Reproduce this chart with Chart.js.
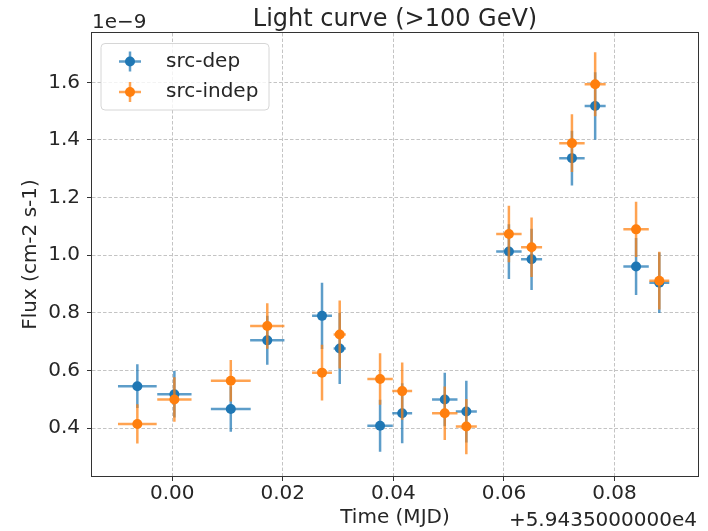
<!DOCTYPE html>
<html>
<head>
<meta charset="utf-8">
<script src="https://cdn.jsdelivr.net/npm/chart.js@4.4.0/dist/chart.umd.min.js"></script>
<style>
  html, body { margin: 0; padding: 0; background: #ffffff; }
  #wrap { width: 708px; height: 531px; }
</style>
</head>
<body>
<div id="wrap"><canvas id="c" width="708" height="531"></canvas></div>
<script>
// Time (MJD) relative to offset 59435
const timeOffsetLabel = "+5.9435000000e4";
const fluxOffsetLabel = "1e\u22129";
const times   = [-0.0063, 0.0004, 0.0106, 0.0172, 0.0271, 0.0303, 0.0376, 0.0416, 0.0493, 0.0532, 0.0609, 0.0650, 0.0723, 0.0765, 0.0839, 0.0881];
const timeErr = [0.0035, 0.0031, 0.0036, 0.0031, 0.0018, 0.0011, 0.0023, 0.0018, 0.0023, 0.0019, 0.0023, 0.0019, 0.0023, 0.0019, 0.0023, 0.0018];
// Flux in units of 1e-9 cm-2 s-1
const depFlux   = [0.546, 0.518, 0.467, 0.705, 0.790, 0.677, 0.409, 0.452, 0.500, 0.458, 1.013, 0.986, 1.337, 1.518, 0.961, 0.905];
const depErr    = [0.076, 0.081, 0.079, 0.085, 0.115, 0.123, 0.090, 0.104, 0.093, 0.107, 0.095, 0.106, 0.095, 0.117, 0.099, 0.105];
const indepFlux = [0.415, 0.500, 0.565, 0.755, 0.593, 0.725, 0.571, 0.529, 0.452, 0.406, 1.074, 1.028, 1.389, 1.593, 1.090, 0.912];
const indepErr  = [0.068, 0.077, 0.072, 0.079, 0.097, 0.118, 0.089, 0.099, 0.093, 0.096, 0.098, 0.103, 0.100, 0.111, 0.096, 0.100];
const xTicks = [0.00, 0.02, 0.04, 0.06, 0.08];
const yTicks = [0.4, 0.6, 0.8, 1.0, 1.2, 1.4, 1.6];
const seriesLabels = ["src-dep", "src-indep"];
const titleText = "Light curve (>100 GeV)";
const xTitle = "Time (MJD)";
const yTitle = "Flux (cm-2 s-1)";

const BLUE = '#1f77b4', ORANGE = '#ff7f0e';
const BLUE_A = 'rgba(31,119,180,0.72)', ORANGE_A = 'rgba(255,127,14,0.72)';
const FONT = "'DejaVu Sans', 'Liberation Sans', sans-serif";
const TXT = '#262626';

function pts(ys) { return times.map((t, i) => ({ x: t, y: ys[i] })); }

const errorBars = {
  id: 'errorBars',
  beforeDatasetDraw(chart, args) {
    const ds = chart.data.datasets[args.index];
    const xs = chart.scales.x, ys = chart.scales.y, ctx = chart.ctx, a = chart.chartArea;
    ctx.save();
    ctx.beginPath(); ctx.rect(a.left, a.top, a.right - a.left, a.bottom - a.top); ctx.clip();
    ctx.strokeStyle = ds.errColor; ctx.lineWidth = 2.5; ctx.lineCap = 'butt';
    ds.data.forEach((p, i) => {
      const x = xs.getPixelForValue(p.x), y = ys.getPixelForValue(p.y);
      const x0 = xs.getPixelForValue(p.x - ds.xErr[i]), x1 = xs.getPixelForValue(p.x + ds.xErr[i]);
      const y0 = ys.getPixelForValue(p.y - ds.yErr[i]), y1 = ys.getPixelForValue(p.y + ds.yErr[i]);
      ctx.beginPath();
      ctx.moveTo(x0, y); ctx.lineTo(x1, y);
      ctx.moveTo(x, y0); ctx.lineTo(x, y1);
      ctx.stroke();
    });
    ctx.restore();
  }
};

const decorations = {
  id: 'decorations',
  afterDatasetsDraw(chart) {
    const ctx = chart.ctx, a = chart.chartArea;
    ctx.save();
    // frame
    ctx.strokeStyle = '#333333'; ctx.lineWidth = 1; ctx.setLineDash([]);
    ctx.strokeRect(Math.round(a.left) - 0.5, Math.round(a.top) - 0.5, Math.round(a.right - a.left) + 1, Math.round(a.bottom - a.top) + 1);
    // legend
    const lx = 101, ly = 43.5, lw = 168, lh = 66.5, r = 4;
    ctx.beginPath();
    ctx.moveTo(lx + r, ly); ctx.lineTo(lx + lw - r, ly); ctx.arcTo(lx + lw, ly, lx + lw, ly + r, r);
    ctx.lineTo(lx + lw, ly + lh - r); ctx.arcTo(lx + lw, ly + lh, lx + lw - r, ly + lh, r);
    ctx.lineTo(lx + r, ly + lh); ctx.arcTo(lx, ly + lh, lx, ly + lh - r, r);
    ctx.lineTo(lx, ly + r); ctx.arcTo(lx, ly, lx + r, ly, r); ctx.closePath();
    ctx.fillStyle = 'rgba(255,255,255,0.8)'; ctx.fill();
    ctx.strokeStyle = '#d6d6d6'; ctx.lineWidth = 1; ctx.stroke();
    chart.data.datasets.slice().sort((p, q) => p.legendIndex - q.legendIndex).forEach((ds, k) => {
      const cy = 61.5 + k * 30.5, cx = 130;
      ctx.strokeStyle = ds.errColor; ctx.lineWidth = 2.5;
      ctx.beginPath(); ctx.moveTo(cx - 11, cy); ctx.lineTo(cx + 11, cy); ctx.moveTo(cx, cy - 10); ctx.lineTo(cx, cy + 10); ctx.stroke();
      ctx.fillStyle = ds.backgroundColor; ctx.beginPath(); ctx.arc(cx, cy, 5, 0, Math.PI * 2); ctx.fill();
      ctx.fillStyle = TXT; ctx.font = '20px ' + FONT; ctx.textAlign = 'left'; ctx.textBaseline = 'middle';
      ctx.fillText(ds.label, 166, cy);
    });
    // title and offset texts
    ctx.fillStyle = TXT; ctx.textBaseline = 'alphabetic';
    ctx.font = '24px ' + FONT; ctx.textAlign = 'center';
    ctx.fillText(titleText, (a.left + a.right) / 2, 26);
    ctx.font = '20px ' + FONT; ctx.textAlign = 'left';
    ctx.fillText(fluxOffsetLabel, a.left, 28);
    ctx.textAlign = 'right';
    ctx.fillText(timeOffsetLabel, a.right - 1, 526);
    ctx.restore();
  }
};

const commonGrid = { color: '#c4c4c4', lineWidth: 1, tickColor: '#333333', tickLength: 5, tickWidth: 1, tickBorderDash: [] };

new Chart(document.getElementById('c'), {
  type: 'scatter',
  data: {
    datasets: [
      { label: seriesLabels[0], data: pts(depFlux), xErr: timeErr, yErr: depErr, errColor: BLUE_A,
        backgroundColor: BLUE, borderColor: BLUE, borderWidth: 0, pointRadius: 5, order: 2, legendIndex: 0 },
      { label: seriesLabels[1], data: pts(indepFlux), xErr: timeErr, yErr: indepErr, errColor: ORANGE_A,
        backgroundColor: ORANGE, borderColor: ORANGE, borderWidth: 0, pointRadius: 5, order: 1, legendIndex: 1 }
    ]
  },
  options: {
    responsive: false, animation: false, devicePixelRatio: 1,
    layout: { padding: { left: 0, top: 33, right: 10, bottom: 0 } },
    plugins: { legend: { display: false }, tooltip: { enabled: false }, title: { display: false } },
    scales: {
      x: {
        type: 'linear', min: -0.0145, max: 0.0951,
        afterBuildTicks: s => { s.ticks = xTicks.map(v => ({ value: v })); },
        afterFit: s => { s.height = 55; },
        ticks: { callback: v => v.toFixed(2), font: { family: FONT, size: 20 }, color: TXT, padding: 1, autoSkip: false, maxRotation: 0 },
        grid: commonGrid,
        border: { display: false, dash: [3.5, 2] },
        title: { display: true, text: xTitle, font: { family: FONT, size: 20 }, color: TXT, padding: { top: 0, bottom: 1 } }
      },
      y: {
        type: 'linear', min: 0.2345, max: 1.771,
        afterBuildTicks: s => { s.ticks = yTicks.map(v => ({ value: v })); },
        afterFit: s => { s.width = 92; },
        ticks: { callback: v => v.toFixed(1), font: { family: FONT, size: 20 }, color: TXT, padding: 7, autoSkip: false },
        grid: commonGrid,
        border: { display: false, dash: [3.5, 2] },
        title: { display: true, text: yTitle, font: { family: FONT, size: 20 }, color: TXT, padding: { top: 19, bottom: 0 } }
      }
    }
  },
  plugins: [errorBars, decorations]
});
</script>
</body>
</html>
